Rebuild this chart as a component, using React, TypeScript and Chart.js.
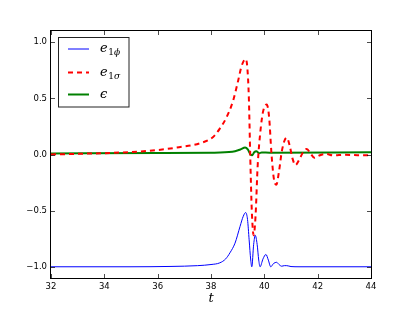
import React, { useEffect, useRef } from "react";
import { Chart, registerables } from "chart.js";

Chart.register(...registerables);

// e_{1ϕ}
const phiT = [32, 35, 36.5, 37.5, 38.0, 38.33, 38.55, 38.71, 38.9, 39.09, 39.21, 39.3, 39.37, 39.43, 39.49, 39.53, 39.6, 39.66, 39.73, 39.79, 39.84, 39.95, 40.06, 40.15, 40.24, 40.35, 40.46, 40.55, 40.65, 40.75, 40.84, 41.0, 41.3, 44];
const phiV = [-1.0, -1.0, -0.997, -0.99, -0.98, -0.965, -0.93, -0.876, -0.79, -0.64, -0.55, -0.517, -0.58, -0.76, -0.94, -1.0, -0.8, -0.72, -0.8, -0.94, -1.0, -0.93, -0.89, -0.94, -1.0, -0.97, -0.96, -0.98, -0.995, -0.99, -0.99, -0.998, -1.0, -1.0];

// e_{1σ}
const sigT = [32, 33, 34, 35, 36, 36.8, 37.58, 38.08, 38.33, 38.58, 38.83, 39.02, 39.15, 39.3, 39.36, 39.42, 39.47, 39.53, 39.6, 39.67, 39.75, 39.85, 39.95, 40.09, 40.18, 40.27, 40.36, 40.45, 40.55, 40.65, 40.75, 40.84, 40.95, 41.05, 41.17, 41.3, 41.45, 41.59, 41.73, 41.88, 42.05, 42.3, 42.6, 43.0, 43.5, 44];
const sigV = [0.0, 0.006, 0.012, 0.022, 0.04, 0.065, 0.1, 0.156, 0.23, 0.33, 0.48, 0.66, 0.79, 0.85, 0.78, 0.5, 0.0, -0.5, -0.72, -0.55, -0.1, 0.2, 0.38, 0.445, 0.33, 0.0, -0.22, -0.27, -0.15, 0.02, 0.12, 0.15, 0.08, -0.03, -0.095, -0.05, 0.02, 0.05, 0.01, -0.03, -0.01, 0.005, -0.008, -0.003, -0.006, -0.006];

// ϵ
const epsT = [32, 36, 38, 38.8, 39.1, 39.28, 39.38, 39.48, 39.55, 39.62, 39.7, 39.8, 39.9, 40.2, 44];
const epsV = [0.01, 0.013, 0.016, 0.024, 0.045, 0.062, 0.045, 0.0, -0.006, 0.02, 0.03, 0.012, 0.018, 0.016, 0.02];

const xTicks = [32, 34, 36, 38, 40, 42, 44];
const yTicks = [-1.0, -0.5, 0.0, 0.5, 1.0];
const legendBase = ["e", "e", "ϵ"];
const legendSub = ["1ϕ", "1σ", ""];
const xTitle = "t";

const colors = ["#0000ff", "#ff0000", "#008000"];

function pts(t: number[], v: number[]) {
  return t.map((x, i) => ({ x, y: v[i] }));
}

const decorPlugin = {
  id: "decor",
  afterDraw(chart: any) {
    const { ctx, chartArea } = chart;
    const xs = chart.scales.x;
    const ys = chart.scales.y;
    const L = chartArea.left, R = chartArea.right, T = chartArea.top, B = chartArea.bottom;
    ctx.save();
    // ticks
    ctx.strokeStyle = "rgba(0,0,0,0.7)";
    ctx.lineWidth = 1;
    ctx.beginPath();
    xTicks.forEach((v) => {
      const px = Math.round(xs.getPixelForValue(v)) + 0.5;
      ctx.moveTo(px, B); ctx.lineTo(px, B - 4);
      ctx.moveTo(px, T); ctx.lineTo(px, T + 4);
    });
    yTicks.forEach((v) => {
      const py = Math.round(ys.getPixelForValue(v)) + 0.5;
      ctx.moveTo(L, py); ctx.lineTo(L + 4, py);
      ctx.moveTo(R, py); ctx.lineTo(R - 4, py);
    });
    ctx.stroke();
    // border
    ctx.strokeStyle = "#000";
    ctx.strokeRect(L - 0.5, T - 0.5, R - L + 1, B - T + 1);
    // legend
    const bx = 58.5, by = 37.5, bw = 70.5, bh = 69.5;
    ctx.fillStyle = "#fff";
    ctx.fillRect(bx, by, bw, bh);
    ctx.strokeStyle = "#222";
    ctx.strokeRect(bx, by, bw, bh);
    const rows = [49, 72.5, 94.5];
    chart.data.datasets.forEach((ds: any, i: number) => {
      const y = rows[i];
      ctx.strokeStyle = ds.borderColor;
      ctx.lineWidth = ds.borderWidth;
      ctx.setLineDash(ds.borderDash || []);
      ctx.beginPath();
      ctx.moveTo(68, y);
      ctx.lineTo(89, y);
      ctx.stroke();
      ctx.setLineDash([]);
      ctx.fillStyle = "#000";
      ctx.textBaseline = "alphabetic";
      ctx.textAlign = "left";
      ctx.font = "italic 13px 'DejaVu Serif'";
      const ty = Math.round(y) + 3;
      ctx.fillText(legendBase[i], 100, ty);
      const w = ctx.measureText(legendBase[i]).width;
      if (legendSub[i]) {
        ctx.font = "9px 'DejaVu Serif'";
        ctx.fillText(legendSub[i].charAt(0), 100 + w + 0.5, ty + 3);
        const w1 = ctx.measureText(legendSub[i].charAt(0)).width;
        ctx.font = "italic 9px 'DejaVu Serif'";
        ctx.fillText(legendSub[i].slice(1), 100 + w + 0.5 + w1, ty + 3);
      }
    });
    // x title
    ctx.fillStyle = "#000";
    ctx.font = "italic 13px 'DejaVu Serif'";
    ctx.textAlign = "center";
    ctx.textBaseline = "alphabetic";
    ctx.fillText(xTitle, (L + R) / 2, 302);
    ctx.restore();
  },
};

export default function App() {
  const ref = useRef<HTMLCanvasElement>(null);
  useEffect(() => {
    document.body.style.margin = "0";
    const chart = new Chart(ref.current as HTMLCanvasElement, {
      type: "line",
      data: {
        datasets: [
          { label: "e1ϕ", data: pts(phiT, phiV), borderColor: colors[0], borderWidth: 1, pointRadius: 0, cubicInterpolationMode: "monotone", fill: false },
          { label: "e1σ", data: pts(sigT, sigV), borderColor: colors[1], borderWidth: 2, borderDash: [5, 4], pointRadius: 0, cubicInterpolationMode: "monotone", fill: false },
          { label: "ϵ", data: pts(epsT, epsV), borderColor: colors[2], borderWidth: 2, pointRadius: 0, cubicInterpolationMode: "monotone", fill: false },
        ],
      },
      options: {
        responsive: false,
        animation: false,
        layout: { padding: { left: 0, right: 42, top: 31, bottom: 0 } },
        plugins: { legend: { display: false }, tooltip: { enabled: false } },
        scales: {
          x: {
            type: "linear",
            min: 32,
            max: 44,
            afterBuildTicks: (s: any) => { s.ticks = xTicks.map((v) => ({ value: v })); },
            afterFit: (s: any) => { s.height = 32; },
            grid: { display: false, drawTicks: false },
            border: { display: false },
            ticks: { color: "#000", padding: 4, maxRotation: 0, font: { family: "'DejaVu Sans'", size: 8.5 }, callback: (v: any) => String(v) },
          },
          y: {
            type: "linear",
            min: -1.1,
            max: 1.1,
            afterBuildTicks: (s: any) => { s.ticks = yTicks.map((v) => ({ value: v })); },
            afterFit: (s: any) => { s.width = 51; },
            grid: { display: false, drawTicks: false },
            border: { display: false },
            ticks: {
              color: "#000",
              padding: 4,
              font: { family: "'DejaVu Sans'", size: 8.5 },
              callback: (v: any) => (v < 0 ? "\u2212" : "") + Math.abs(Number(v)).toFixed(1),
            },
          },
        },
      },
      plugins: [decorPlugin],
    } as any);
    return () => chart.destroy();
  }, []);
  return (
    <div style={{ position: "absolute", left: 0, top: 0, width: 413, height: 310, background: "#fff" }}>
      <canvas ref={ref} width={413} height={310} />
    </div>
  );
}
